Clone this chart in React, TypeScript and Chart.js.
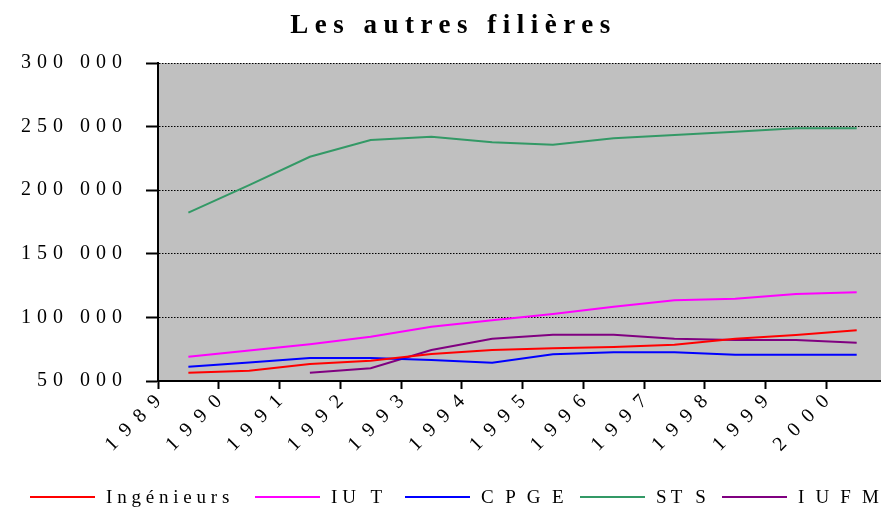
import React, { useEffect, useRef } from "react";
import { Chart, registerables } from "chart.js";

Chart.register(...registerables);

const FONT = '"Liberation Serif", "Times New Roman", serif';

const title = "Les autres filières";
const years = ["1989", "1990", "1991", "1992", "1993", "1994", "1995", "1996", "1997", "1998", "1999", "2000"];
const seriesNames = ["Ingénieurs", "IU T", "C P G E", "ST S", "I U F M"];
const seriesColors = ["#FF0000", "#FF00FF", "#0000FF", "#339966", "#800080"];

const ingenieurs = [56500, 58100, 63400, 66000, 71200, 74400, 75700, 76700, 78500, 83300, 86200, 89900];
const iut = [69100, 74000, 78900, 84800, 92700, 97700, 102700, 108400, 113400, 114700, 118400, 119700];
const cpge = [61200, 64600, 68100, 68100, 66500, 64400, 71000, 72600, 72600, 70700, 70700, 70700];
const sts = [182300, 204000, 226300, 239500, 242100, 237700, 235800, 240800, 243400, 246000, 248700, 248700];
const iufm = [null, null, 56500, 60000, 74400, 83300, 86400, 86400, 83300, 82200, 82200, 80100];

const yMin = 50000;
const yMax = 300000;
const yStep = 50000;

const allSeries = [ingenieurs, iut, cpge, sts, iufm];

// legend layout: left edge of each entry, and its letter spacing
const legendLeft = [30, 255, 405, 580, 722];
const legendSpacing = [4.8, 5, 3.4, 4.2, 3.2];

const fmt = (v: number) => {
  const s = String(Math.round(v));
  return s.replace(/\B(?=(\d{3})+(?!\d))/g, " ");
};

const bgPlugin = {
  id: "spacingAndBg",
  beforeUpdate(chart: any) {
    chart.ctx.letterSpacing = "0px";
  },
  afterLayout(chart: any) {
    const y: any = chart.scales.y;
    if (y && !y._lsPatched) {
      const orig = y.drawLabels.bind(y);
      y.drawLabels = (area: any) => {
        const c = chart.ctx;
        const prev = c.letterSpacing;
        c.letterSpacing = "6px";
        orig(area);
        c.letterSpacing = prev;
      };
      y._lsPatched = true;
    }
  },
  beforeDraw(chart: any) {
    const { ctx, chartArea: a } = chart;
    ctx.letterSpacing = "0px";
    ctx.save();
    ctx.fillStyle = "#C0C0C0";
    ctx.fillRect(a.left, a.top, a.right - a.left, a.bottom - a.top);
    ctx.restore();
  },
};

export default function App() {
  const ref = useRef<HTMLCanvasElement>(null);

  useEffect(() => {
    if (!ref.current) return;
    const chart = new Chart(ref.current, {
      type: "line",
      data: {
        datasets: allSeries.map((vals, si) => ({
          label: seriesNames[si],
          data: vals.map((v, i) => ({ x: i + 0.5, y: v })),
          borderColor: seriesColors[si],
          backgroundColor: seriesColors[si],
          borderWidth: 2,
          pointRadius: 0,
          pointHoverRadius: 0,
          fill: false,
          tension: 0,
        })),
      },
      options: {
        responsive: false,
        animation: false,
        devicePixelRatio: 1,
        layout: { padding: { top: 63, right: 0, bottom: 0, left: 0 } },
        plugins: {
          legend: { display: false },
          title: { display: false },
          tooltip: { enabled: false },
        },
        scales: {
          x: {
            type: "linear",
            min: 0,
            max: 11.9,
            afterBuildTicks: (scale: any) => {
              scale.ticks = years.map((_, i) => ({ value: i }));
            },
            afterFit: (scale: any) => {
              scale.height = 129;
            },
            ticks: {
              autoSkip: false,
              minRotation: 45,
              maxRotation: 45,
              padding: 1,
              color: "#000",
              font: { family: FONT, size: 20 },
              callback: (v: any) => {
                const s = years[v as number];
                return s ? s.split("").join("\u2002") : "";
              },
            },
            grid: {
              drawOnChartArea: false,
              drawTicks: true,
              tickLength: 8,
              tickWidth: 2,
              tickColor: "#000",
              color: "#000",
            },
            border: { display: true, color: "#000", width: 2 },
          },
          y: {
            type: "linear",
            min: yMin,
            max: yMax,
            afterFit: (scale: any) => {
              scale.width = 158;
            },
            ticks: {
              stepSize: yStep,
              padding: 18,
              color: "#000",
              font: { family: FONT, size: 20 },
              callback: (v: any) => fmt(Number(v)),
            },
            grid: {
              color: "#000",
              lineWidth: 1,
              drawTicks: true,
              tickLength: 12,
              tickWidth: 2,
              tickColor: "#000",
              tickBorderDash: [],
            },
            border: { display: true, color: "#000", width: 2, dash: [1.5, 1.5] },
          },
        },
      },
      plugins: [bgPlugin],
    } as any);
    return () => chart.destroy();
  }, []);

  return (
    <div
      style={{
        position: "absolute",
        left: 0,
        top: 0,
        width: 881,
        height: 510,
        background: "#fff",
        overflow: "hidden",
      }}
    >
      <canvas ref={ref} width={881} height={510} style={{ display: "block" }} />
      <div
        style={{
          position: "absolute",
          top: 11,
          left: 0,
          width: 881,
          boxSizing: "border-box",
          paddingLeft: 26,
          textAlign: "center",
          fontFamily: FONT,
          fontWeight: "bold",
          fontSize: 27,
          lineHeight: "27px",
          letterSpacing: "6.5px",
          color: "#000",
          whiteSpace: "nowrap",
        }}
      >
        {title}
      </div>
      {seriesNames.map((n, i) => (
        <div
          key={n}
          style={{
            position: "absolute",
            left: legendLeft[i],
            top: 486,
            height: 22,
            display: "flex",
            alignItems: "center",
            fontFamily: FONT,
            fontSize: 19,
            letterSpacing: `${legendSpacing[i]}px`,
            color: "#000",
            whiteSpace: "nowrap",
          }}
        >
          <span
            style={{
              display: "inline-block",
              width: 65,
              height: 2,
              background: seriesColors[i],
              marginRight: 11,
            }}
          />
          <span>{n}</span>
        </div>
      ))}
    </div>
  );
}
